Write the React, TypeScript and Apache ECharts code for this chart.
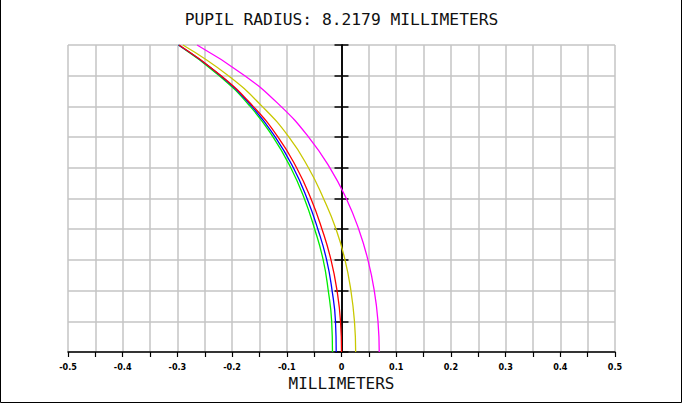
import React, { useEffect, useRef } from "react";
import * as echarts from "echarts";

const titleText = "PUPIL RADIUS: 8.2179 MILLIMETERS";
const xAxisName = "MILLIMETERS";
const xTickLabels = ["-0.5", "-0.4", "-0.3", "-0.2", "-0.1", "0", "0.1", "0.2", "0.3", "0.4", "0.5"];

// normalized pupil coordinate (vertical)
const pupil = [0, 0.1, 0.2, 0.3, 0.4, 0.5, 0.6, 0.7, 0.8, 0.9, 1.0];

// longitudinal aberration (mm) per wavelength
const greenX = [-0.0165, -0.018, -0.0242, -0.0335, -0.049, -0.068, -0.0927, -0.125, -0.167, -0.2235, -0.298];
const blueX = [-0.0097, -0.011, -0.0172, -0.0272, -0.0432, -0.063, -0.088, -0.121, -0.164, -0.221, -0.298];
const redX = [0, -0.0018, -0.0082, -0.0192, -0.0356, -0.056, -0.0821, -0.116, -0.1615, -0.22, -0.297];
const yellowX = [0.0259, 0.0237, 0.0172, 0.0064, -0.0099, -0.0329, -0.0604, -0.096, -0.145, -0.2068, -0.29];
const magentaX = [0.069, 0.0667, 0.0599, 0.0483, 0.0315, 0.0087, -0.0212, -0.0601, -0.1107, -0.1768, -0.264];

const seriesDefs = [
  { name: "green", color: "#00ee00", xs: greenX },
  { name: "blue", color: "#0000ff", xs: blueX },
  { name: "red", color: "#ff0000", xs: redX },
  { name: "yellow", color: "#c8c800", xs: yellowX },
  { name: "magenta", color: "#ff00ff", xs: magentaX },
];

export default function App() {
  const ref = useRef<HTMLDivElement>(null);
  useEffect(() => {
    if (!ref.current) return;
    const chart = echarts.init(ref.current, undefined, { renderer: "svg" });
    const mono = "DejaVu Sans Mono";
    const labelFont = "'DejaVu Sans Condensed', 'Liberation Sans Narrow', 'DejaVu Sans Mono'";
    const yAxisBase = {
      type: "value",
      min: 0,
      max: 1,
      interval: 0.1,
      axisLabel: { show: false },
      splitLine: { show: false },
      axisLine: { show: true, onZero: true, onZeroAxisIndex: 0, lineStyle: { color: "#000", width: 1.5 } },
      axisTick: { show: true, length: 7, lineStyle: { color: "#000", width: 1.5 } },
    };
    chart.setOption({
      animation: false,
      backgroundColor: "#fff",
      title: {
        text: titleText,
        left: "center",
        top: 6,
        textStyle: { fontFamily: mono, fontSize: 16.3, fontWeight: "normal", color: "#111" },
      },
      grid: { left: 68, right: 68, top: 45, bottom: 53, show: false },
      xAxis: [
        {
          type: "value",
          min: -0.5,
          max: 0.5,
          interval: 0.05,
          name: xAxisName,
          nameLocation: "middle",
          nameGap: 23,
          nameTextStyle: { fontFamily: mono, fontSize: 16, color: "#111" },
          axisLine: { show: true, onZero: false, lineStyle: { color: "#000", width: 1.5 } },
          axisTick: { show: true, length: 5, lineStyle: { color: "#000", width: 1.2 } },
          axisLabel: {
            margin: 10,
            fontFamily: labelFont,
            fontSize: 9,
            fontWeight: "bold",
            color: "#000",
            formatter: (v: number) => {
              const k = Math.round(v * 100);
              if (k % 10 !== 0) return "";
              return xTickLabels[Math.round(v * 10) + 5];
            },
          },
          splitLine: { show: true, lineStyle: { color: "#c4c4c4", width: 1.5 } },
        },
        {
          type: "value",
          min: -0.5,
          max: 0.5,
          show: false,
        },
      ],
      yAxis: [
        {
          ...yAxisBase,
          position: "left",
          splitLine: { show: true, lineStyle: { color: "#c4c4c4", width: 1.5 } },
        },
        {
          ...yAxisBase,
          position: "right",
        },
      ],
      graphic: [
        {
          type: "polyline",
          shape: { points: [[0.5, 0], [0.5, 402.5], [681.5, 402.5], [681.5, 0]] },
          style: { stroke: "#000", lineWidth: 1, fill: null },
          silent: true,
        },
      ],
      series: seriesDefs.map((s) => ({
        name: s.name,
        type: "line",
        xAxisIndex: 0,
        yAxisIndex: 0,
        data: pupil.map((p, i) => [s.xs[i], p]),
        smooth: 0.5,
        showSymbol: false,
        symbol: "none",
        lineStyle: { color: s.color, width: 1.3 },
        itemStyle: { color: s.color },
        z: 3,
      })),
    });
    return () => chart.dispose();
  }, []);
  return (
    <div
      ref={ref}
      style={{ position: "fixed", left: 0, top: 0, width: 683, height: 405, background: "#fff" }}
    />
  );
}
